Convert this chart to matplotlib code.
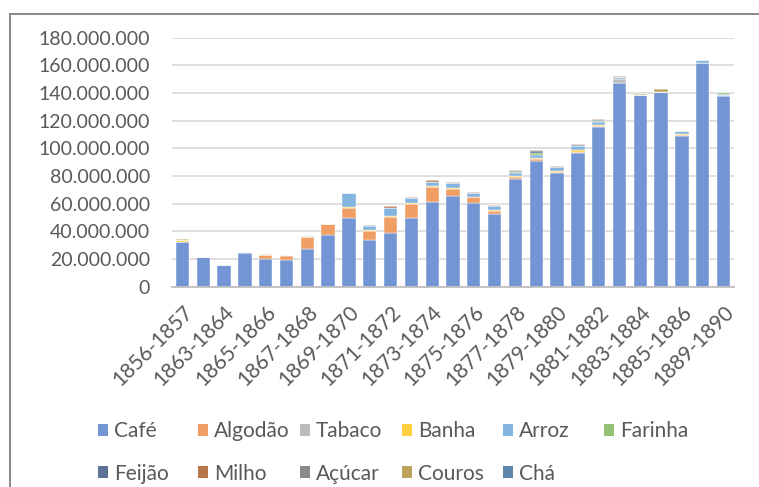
import numpy as np
import matplotlib
matplotlib.use("Agg")
import matplotlib.pyplot as plt
from matplotlib.patches import Patch
from matplotlib.lines import Line2D
from matplotlib.ticker import FuncFormatter

plt.rcParams['font.family'] = ['Lato', 'DejaVu Sans']

# categories (only every other one is labelled on the axis)
categories = ['1856-1857', '1862-1863', '1863-1864', '1864-1865', '1865-1866',
              '1866-1867', '1867-1868', '1868-1869', '1869-1870', '1870-1871',
              '1871-1872', '1872-1873', '1873-1874', '1874-1875', '1875-1876',
              '1876-1877', '1877-1878', '1878-1879', '1879-1880', '1880-1881',
              '1881-1882', '1882-1883', '1883-1884', '1884-1885', '1885-1886',
              '1886-1887', '1889-1890']

# values in millions
cafe    = [32, 21.2, 15.8, 24.5, 20, 19, 27.2, 37.5, 50, 34, 39, 50, 61.5, 65.4, 60.4,
           52.8, 78, 91, 82, 97, 115.2, 147.5, 138.3, 141, 109, 161.5, 138]
algodao = [0, 0, 0, 0, 3.2, 3.4, 8.5, 7.8, 6.6, 6.5, 11.5, 10, 10.3, 5.5, 4.2,
           2.2, 1, 1, 1, 0.7, 1.2, 0, 0, 0, 1, 0, 0]
tabaco  = [0.5, 0.2, 0, 0.3, 0, 0.2, 0, 0, 0, 0, 0, 0, 0, 0, 0,
           0, 0, 0, 0, 0, 0, 2.3, 0.5, 0, 0, 0, 0.8]
banha   = [1.2, 0, 0, 0, 0, 0, 0.3, 0, 0.8, 0.5, 0.6, 0.6, 0.8, 0.8, 0.5,
           0.8, 0.8, 1, 0.6, 0.8, 0.8, 0, 0, 0, 0.4, 0.5, 0]
arroz   = [0, 0, 0, 0, 0, 0, 0, 0, 10.6, 3, 5.7, 3.5, 3, 3.2, 2.6,
           2.4, 2.4, 2.5, 2.8, 3.2, 2.2, 2, 0, 0, 2.3, 2, 0.6]
farinha = [0, 0, 0, 0, 0.3, 0, 0.5, 0, 0, 0, 0, 0, 0.3, 0, 0,
           0.4, 0.8, 1.5, 0, 0, 0.5, 0, 0, 0, 0, 0, 1.6]
feijao  = [0, 0, 0, 0, 0, 0, 0, 0, 0, 0.3, 0, 0, 0, 0, 0,
           0, 0.4, 0.8, 0, 0.6, 0.6, 0, 0, 0, 0, 0, 0]
milho   = [0, 0, 0, 0, 0, 0, 0, 0, 0, 0.5, 1.2, 0.6, 0.9, 0.7, 0.8,
           0.6, 0.9, 0.8, 0.9, 0.7, 0.4, 0, 0, 0, 0, 0, 0]
acucar  = [0] * 27
couros  = [0.5, 0, 0, 0, 0, 0, 0, 0.3, 0, 0, 0, 0, 0, 0, 0,
           0, 0, 0, 0, 0, 0, 0.8, 0.8, 1.8, 0, 0, 0]
cha     = [0] * 27

series_names = ['Café', 'Algodão', 'Tabaco', 'Banha', 'Arroz', 'Farinha',
                'Feijão', 'Milho', 'Açúcar', 'Couros', 'Chá']
series = [cafe, algodao, tabaco, banha, arroz, farinha, feijao, milho, acucar, couros, cha]
colors = ['#7395D3', '#F19E64', '#BCBCBC', '#FFD040', '#84B4E0', '#94C275',
          '#5C739A', '#B6764A', '#8A8A8A', '#BBA35C', '#5C86AC']

text_color = '#595959'

fig = plt.figure(figsize=(7.59, 4.87), dpi=100)
ax = fig.add_axes([172/759, 1-286.7/487, (734-172)/759, (286.7-37.7)/487])

x = np.arange(len(categories))
bottom = np.zeros(len(categories))
for name, vals, c in zip(series_names, series, colors):
    v = np.array(vals) * 1e6
    ax.bar(x, v, 0.64, bottom=bottom, color=c, edgecolor='white', linewidth=0.3,
           label=name, zorder=2)
    bottom += v

ax.set_ylim(0, 180e6)
ax.set_xlim(-0.5, len(categories) - 0.5)
ax.set_yticks(np.arange(0, 180e6 + 1, 20e6))
ax.yaxis.set_major_formatter(FuncFormatter(lambda v, p: f'{int(v):,}'.replace(',', '.')))
ax.grid(axis='y', color='#D9D9D9', linewidth=1.2, zorder=0)
ax.set_axisbelow(True)
for s in ['top', 'right', 'left']:
    ax.spines[s].set_visible(False)
ax.spines['bottom'].set_color('#BFBFBF')
ax.spines['bottom'].set_linewidth(1.3)

ax.set_xticks(x[::2])
ax.set_xticklabels(categories[::2], rotation=45, ha='right', va='top',
                   rotation_mode='anchor')
ax.tick_params(axis='x', length=0, pad=11, labelsize=15, labelcolor=text_color)
ax.tick_params(axis='y', length=0, pad=16, labelsize=14, labelcolor=text_color)

# legend: uniform column widths like the original
col_x = [98, 198, 300, 402, 503, 604]
for ci, cx in enumerate(col_x):
    idx = [i for i in (ci, ci + 6) if i < len(series_names)]
    handles = [Patch(facecolor=colors[i], edgecolor='none') for i in idx]
    labels = [series_names[i] for i in idx]
    fig.legend(handles, labels, loc='upper left', bbox_to_anchor=(cx/759, 1-421/487),
               frameon=False, fontsize=15, labelcolor=text_color, borderpad=0,
               borderaxespad=0, handlelength=0.5, handleheight=0.5,
               handletextpad=0.25, labelspacing=1.08)

# chart border
fig.add_artist(Line2D([10/759, 10/759], [0, 1-14/487], color='#7F7F7F', lw=1.3))
fig.add_artist(Line2D([10/759, 1], [1-14/487, 1-14/487], color='#7F7F7F', lw=1.3))

fig.savefig('out.png', dpi=100)
